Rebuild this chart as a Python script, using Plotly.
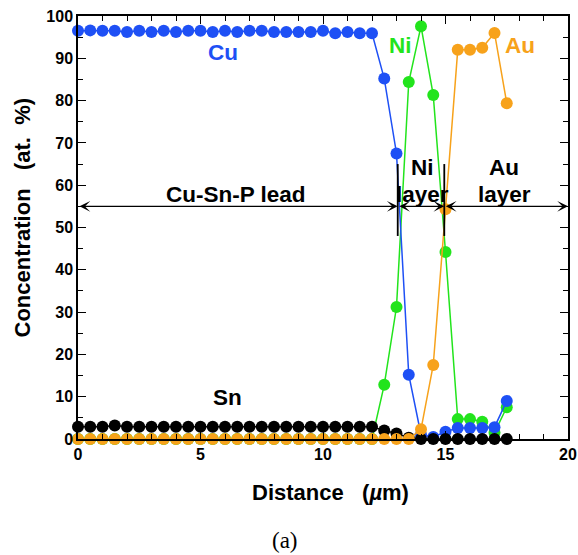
import plotly.graph_objects as go

distance = [0.0, 0.5, 1.0, 1.5, 2.0, 2.5, 3.0, 3.5, 4.0, 4.5, 5.0, 5.5, 6.0, 6.5,
            7.0, 7.5, 8.0, 8.5, 9.0, 9.5, 10.0, 10.5, 11.0, 11.5, 12.0, 12.5,
            13.0, 13.5, 14.0, 14.5, 15.0, 15.5, 16.0, 16.5, 17.0, 17.5]

cu = [96.5, 96.6, 96.5, 96.5, 96.2, 96.5, 96.2, 96.5, 96.2, 96.5, 96.5, 96.2,
      96.5, 96.2, 96.5, 96.5, 96.2, 96.2, 96.2, 96.2, 96.5, 95.9, 96.2, 95.9,
      95.9, 85.2, 67.5, 15.2, 1.0, 0.5, 1.7, 2.6, 2.6, 2.6, 2.8, 9.0]

ni = [0, 0, 0, 0, 0, 0, 0, 0, 0, 0, 0, 0, 0, 0, 0, 0, 0, 0, 0, 0, 0, 0, 0, 0,
      0, 12.8, 31.2, 84.4, 97.6, 81.3, 44.2, 4.7, 4.7, 4.1, 1.5, 7.5]

sn = [2.9, 2.9, 2.9, 3.2, 2.9, 2.9, 2.9, 2.9, 2.9, 2.9, 2.9, 2.9, 2.9, 2.9,
      2.9, 2.9, 2.9, 2.9, 2.9, 2.9, 2.9, 2.9, 2.9, 2.9, 2.9, 2.0, 1.3, 0.3,
      0, 0, 0, 0, 0, 0, 0, 0]

au = [0, 0, 0, 0, 0, 0, 0, 0, 0, 0, 0, 0, 0, 0, 0, 0, 0, 0, 0, 0, 0, 0, 0, 0,
      0, 0, 0, 0, 2.3, 17.5, 54.3, 92.0, 92.0, 92.5, 96.0, 79.4]

x_ticks = [0, 5, 10, 15, 20]
y_ticks = [0, 10, 20, 30, 40, 50, 60, 70, 80, 90, 100]

# layer boundaries and arrow level
boundaries = [13.05, 14.95]
arrow_level = 55
x_max = 20

BLUE = "#1e50f5"
GREEN = "#22e41c"
ORANGE = "#f7a21b"
BLACK = "#000000"
FONT = "Liberation Sans"
NB = "\u00a0"

fig = go.Figure()
for name, vals, col in [("Ni", ni, GREEN), ("Cu", cu, BLUE), ("Sn", sn, BLACK), ("Au", au, ORANGE)]:
    fig.add_trace(go.Scatter(
        x=distance, y=vals, mode="lines+markers", name=name,
        line=dict(color=col, width=1.5),
        marker=dict(color=col, size=12),
        cliponaxis=False, showlegend=False))


def label(x, y, txt, col, size=22.5, xref="x", yref="y", angle=0, family=FONT):
    fig.add_annotation(x=x, y=y, xref=xref, yref=yref, text=txt, showarrow=False,
                       xanchor="center", yanchor="middle", textangle=angle,
                       font=dict(family=family, size=size, color=col))


# element labels
label(5.9, 91.3, "<b>Cu</b>", BLUE)
label(13.15, 93.1, "<b>Ni</b>", GREEN)
label(18.05, 93.1, "<b>Au</b>", ORANGE)
label(6.1, 9.7, "<b>Sn</b>", BLACK)

# region labels
label(6.45, 57.8, "<b>Cu-Sn-P lead</b>", BLACK)
label(14.05, 64.1, "<b>Ni</b>", BLACK)
label(14.05, 57.9, "<b>layer</b>", BLACK)
label(17.4, 64.1, "<b>Au</b>", BLACK)
label(17.4, 57.9, "<b>layer</b>", BLACK)

# double-headed arrows
segments = [(0, boundaries[0]), (boundaries[0], boundaries[1]), (boundaries[1], x_max)]
for a, b in segments:
    fig.add_annotation(x=b, y=arrow_level, ax=a, ay=arrow_level,
                       xref="x", yref="y", axref="x", ayref="y",
                       text="", showarrow=True, arrowside="end+start",
                       arrowhead=3, arrowsize=1.5, arrowwidth=1.2,
                       arrowcolor=BLACK, standoff=0, startstandoff=0)

for bx in boundaries:
    fig.add_shape(type="line", x0=bx, x1=bx, y0=48, y1=65,
                  line=dict(color=BLACK, width=1.8))

# axis titles and caption (paper coords)
label((330 - 78) / 490, -(492 - 439) / 423, f"<b>Distance{NB}{NB}{NB}(<i>µ</i>m)</b>",
      BLACK, size=22, xref="paper", yref="paper")
label((22 - 78) / 490, (439 - 217.5) / 423,
      f"<b>Concentration{NB}{NB}{NB}(at.{NB}{NB}%)</b>",
      BLACK, size=22, xref="paper", yref="paper", angle=-90)
label((285 - 78) / 490, -(540 - 439) / 423, "(a)", BLACK, size=23,
      xref="paper", yref="paper", family="Liberation Serif")

axis_common = dict(showline=True, linecolor=BLACK, linewidth=1.5, mirror="allticks",
                   ticks="inside", tickcolor=BLACK, tickwidth=1.3, ticklen=8,
                   showgrid=False, zeroline=False, automargin=False,
                   tickfont=dict(family=FONT, size=16, color=BLACK, weight="bold"))

fig.update_xaxes(range=[0, 20], tickvals=x_ticks, ticktext=[str(v) for v in x_ticks],
                 minor=dict(ticks="inside", dtick=1, ticklen=5, tickcolor=BLACK, tickwidth=1.2),
                 **axis_common)
fig.update_yaxes(range=[0, 100], tickvals=y_ticks, ticktext=[str(v) for v in y_ticks],
                 minor=dict(ticks="inside", dtick=5, ticklen=5, tickcolor=BLACK, tickwidth=1.2),
                 **axis_common)

fig.update_layout(width=578, height=555, paper_bgcolor="white", plot_bgcolor="white",
                  margin=dict(l=78, r=10, t=16, b=116, autoexpand=False))

fig.write_html("out.html", config={"displayModeBar": False},
               post_script="document.body.style.margin='0px';")
